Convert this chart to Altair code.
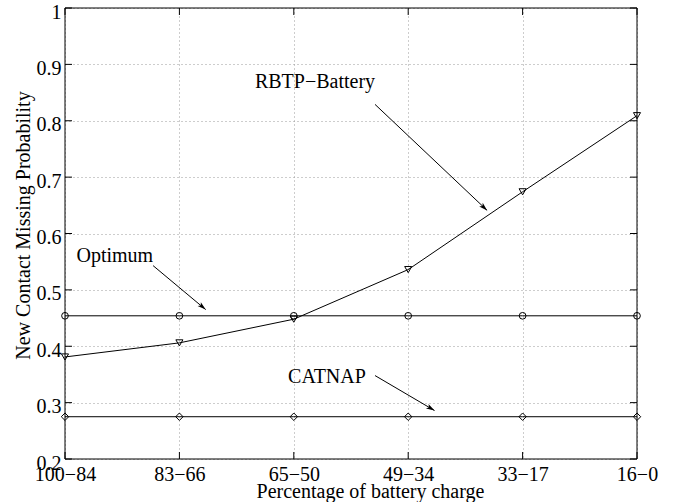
import json
import math

import altair as alt
import pandas as pd

# ---- data -------------------------------------------------------------
categories = ["100−84", "83−66", "65−50", "49−34", "33−17", "16−0"]
optimum = [0.454, 0.454, 0.454, 0.454, 0.454, 0.454]
rbtp_battery = [0.381, 0.406, 0.448, 0.536, 0.674, 0.809]
catnap = [0.275, 0.275, 0.275, 0.275, 0.275, 0.275]
y_ticks = [0.2, 0.3, 0.4, 0.5, 0.6, 0.7, 0.8, 0.9, 1.0]

series_names = ["Optimum", "RBTP−Battery", "CATNAP"]
series_values = [optimum, rbtp_battery, catnap]

# annotation labels and their arrows, in data coordinates (category index, probability)
note_text = ["RBTP−Battery", "Optimum", "CATNAP"]
note_x = [1.66, 0.10, 1.95]
note_y = [0.858, 0.550, 0.335]
arrow_x1 = [2.71, 0.77, 2.71]
arrow_y1 = [0.829, 0.543, 0.348]
arrow_x2 = [3.69, 1.23, 3.23]
arrow_y2 = [0.641, 0.465, 0.286]

# ---- layout -----------------------------------------------------------
W, H = 572, 451
FONT = "Liberation Serif"
FS = 20
X_MAX = len(categories) - 1
Y_MIN, Y_MAX = 0.2, 1.0

rows = []
for name, vals in zip(series_names, series_values):
    for i, v in enumerate(vals):
        rows.append({"series": name, "idx": i, "value": v})
df = pd.DataFrame(rows)

notes = pd.DataFrame({
    "text": note_text, "tx": note_x, "ty": note_y,
    "x1": arrow_x1, "y1": arrow_y1, "x2": arrow_x2, "y2": arrow_y2,
})


def head_angle(r):
    dx = (r.x2 - r.x1) * W / X_MAX
    dy = -(r.y2 - r.y1) * H / (Y_MAX - Y_MIN)
    return math.degrees(math.atan2(dx, -dy)) % 360


notes["angle"] = notes.apply(head_angle, axis=1)

x_scale = alt.Scale(domain=[0, X_MAX], nice=False, zero=False)
y_scale = alt.Scale(domain=[Y_MIN, Y_MAX], nice=False, zero=False)

label_expr = json.dumps(categories) + "[datum.value]"

axis_style = dict(
    domain=False, ticks=False, tickSize=0,
    grid=True, gridColor="#9a9a9a", gridDash=[1, 3], gridWidth=1,
    labelFont=FONT, labelFontSize=FS, labelColor="black",
    titleFont=FONT, titleFontSize=FS, titleColor="black", titleFontWeight="normal",
    labelOverlap=False, labelBound=False,
)

x_axis = alt.Axis(
    values=list(range(len(categories))), labelExpr=label_expr,
    title="Percentage of battery charge", titleX=305, titleY=38,
    titleBaseline="alphabetic", titleAlign="center",
    labelBaseline="alphabetic", labelPadding=21, labelFlush=False,
    **axis_style,
)
y_axis = alt.Axis(
    values=y_ticks, format=".1~f",
    title="New Contact Missing Probability", titleAngle=270,
    titleX=-36, titleY=217, titleBaseline="alphabetic", titleAlign="center",
    labelBaseline="alphabetic", labelOffset=10, labelPadding=4,
    **axis_style,
)


def X(field):
    return alt.X(field, scale=x_scale, axis=x_axis)


def Y(field):
    return alt.Y(field, scale=y_scale, axis=y_axis)


lines = alt.Chart(df).mark_line(color="black", strokeWidth=1).encode(
    x=X("idx:Q"), y=Y("value:Q"), detail="series:N",
)

points = alt.Chart(df).mark_point(filled=False, color="black", strokeWidth=1, opacity=1).encode(
    x=X("idx:Q"), y=Y("value:Q"),
    shape=alt.Shape("series:N", legend=None, scale=alt.Scale(
        domain=series_names, range=["circle", "triangle-down", "diamond"])),
    size=alt.Size("series:N", legend=None, scale=alt.Scale(
        domain=series_names, range=[45, 55, 30])),
)

# inward tick marks on all four sides of the box
ytick_df = pd.DataFrame({"v": y_ticks})
xtick_df = pd.DataFrame({"i": list(range(len(categories)))})
TL = 7
yt = alt.Chart(ytick_df).mark_rule(color="black", strokeWidth=1)
xt = alt.Chart(xtick_df).mark_rule(color="black", strokeWidth=1)
ticks = [
    yt.encode(y=Y("v:Q"), x=alt.value(0), x2=alt.value(TL)),
    yt.encode(y=Y("v:Q"), x=alt.value(W - TL), x2=alt.value(W)),
    xt.encode(x=X("i:Q"), y=alt.value(H - TL), y2=alt.value(H)),
    xt.encode(x=X("i:Q"), y=alt.value(0), y2=alt.value(TL)),
]

note_labels = alt.Chart(notes).mark_text(
    font=FONT, fontSize=FS, color="black", align="left", baseline="alphabetic"
).encode(x=X("tx:Q"), y=Y("ty:Q"), text="text:N")

arrow_lines = alt.Chart(notes).mark_rule(color="black", strokeWidth=1).encode(
    x=X("x1:Q"), y=Y("y1:Q"), x2="x2:Q", y2="y2:Q",
)

# notched arrowhead, tip at the symbol origin, rotated along each arrow
arrow_heads = alt.Chart(notes).mark_point(
    shape="M0,0 L0.6,2 L0,1.5 L-0.6,2 Z", filled=True, color="black",
    size=72, opacity=1, strokeWidth=0.5,
).encode(
    x=X("x2:Q"), y=Y("y2:Q"),
    angle=alt.Angle("angle:Q", scale=None),
)

box = alt.Chart(pd.DataFrame({"k": [0]})).mark_rect(
    fillOpacity=0, stroke="black", strokeWidth=1
).encode(x=alt.value(0), x2=alt.value(W), y=alt.value(0), y2=alt.value(H))

chart = alt.layer(
    lines, points, *ticks, arrow_lines, arrow_heads, note_labels, box
).properties(
    width=W, height=H,
    autosize=alt.AutoSizeParams(type="none"),
    padding={"left": 65, "top": 8, "right": 49, "bottom": 43},
).configure(
    background="white", font=FONT,
).configure_view(
    stroke=None,
)

chart.save("out.html", embed_options={"renderer": "svg", "actions": False})
